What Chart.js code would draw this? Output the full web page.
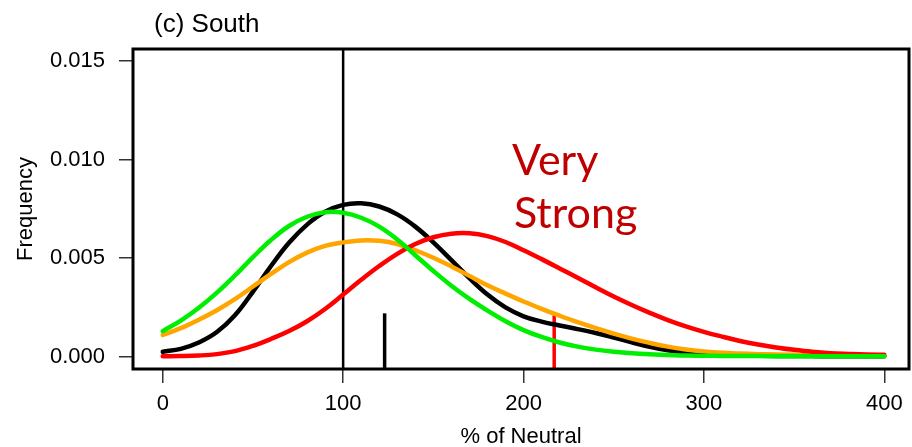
<!DOCTYPE html>
<html>
<head>
<meta charset="utf-8">
<script src="https://cdn.jsdelivr.net/npm/chart.js@4/dist/chart.umd.min.js"></script>
<style>
  html, body { margin: 0; padding: 0; background: #fff; }
  #wrap { width: 912px; height: 447px; position: relative; }
</style>
</head>
<body>
<div id="wrap"><canvas id="c" width="912" height="447"></canvas></div>
<script>
// ---- data ----
const pctNeutral = [0,10,20,30,40,50,60,70,80,90,100,110,120,130,140,150,160,170,180,190,200,
                    210,220,230,240,250,260,270,280,290,300,310,320,330,340,350,360,370,380,390,400];
const blackFreq  = [0.00025,0.00040,0.00072,0.00125,0.00210,0.00330,0.00460,0.00578,0.00670,0.00735,0.00770,
                    0.00778,0.00762,0.00722,0.00660,0.00580,0.00490,0.00398,0.00315,0.00250,0.00205,
                    0.00178,0.00158,0.00140,0.00120,0.00097,0.00073,0.00050,0.00032,0.00020,0.00013,
                    0.00009,0.00007,0.00005,0.00004,0.00003,0.00003,0.00002,0.00002,0.00002,0.00002];
const orangeFreq = [0.00110,0.00145,0.00188,0.00236,0.00292,0.00356,0.00420,0.00480,0.00528,0.00562,0.00580,
                    0.00590,0.00588,0.00572,0.00540,0.00502,0.00458,0.00410,0.00362,0.00320,0.00280,
                    0.00243,0.00208,0.00175,0.00145,0.00117,0.00092,0.00070,0.00051,0.00037,0.00027,
                    0.00020,0.00016,0.00013,0.00011,0.00010,0.00009,0.00008,0.00007,0.00006,0.00005];
const redFreq    = [0.00002,0.00003,0.00006,0.00013,0.00028,0.00055,0.00090,0.00130,0.00180,0.00242,0.00315,
                    0.00390,0.00460,0.00522,0.00572,0.00606,0.00624,0.00626,0.00612,0.00582,0.00540,
                    0.00495,0.00448,0.00400,0.00352,0.00305,0.00262,0.00222,0.00186,0.00154,0.00126,
                    0.00102,0.00080,0.00062,0.00047,0.00035,0.00025,0.00018,0.00014,0.00011,0.00010];
const greenFreq  = [0.00130,0.00183,0.00248,0.00325,0.00412,0.00505,0.00592,0.00663,0.00710,0.00733,0.00730,
                    0.00705,0.00660,0.00595,0.00515,0.00435,0.00360,0.00293,0.00234,0.00180,0.00135,
                    0.00100,0.00072,0.00051,0.00036,0.00025,0.00017,0.00012,0.00009,0.00006,0.00005,
                    0.00004,0.00003,0.00003,0.00002,0.00002,0.00002,0.00002,0.00002,0.00002,0.00002];
const neutralLine = [100];          // full-height reference line at 100 %
const blackMark   = [123, 0.0022];  // short black marker: x, top
const redMark     = [217, 0.0021];  // short red marker: x, top
const xTicks = [0, 100, 200, 300, 400];
const yTicks = [0, 0.005, 0.010, 0.015];
const xRange = [-16.5, 413.7];
const yRange = [-0.000624, 0.01561];
const titleText = "(c) South";
const noteLines = ["Very", "Strong"];

// ---- build ----
const pts = arr => pctNeutral.map((x, i) => ({ x: x, y: arr[i] }));
const curve = (data, color) => ({
  type: 'line', data: pts(data), borderColor: color, borderWidth: 4.5,
  pointRadius: 0, tension: 0.4, cubicInterpolationMode: 'default', fill: false,
  borderCapStyle: 'round', borderJoinStyle: 'round'
});
const vseg = (x, top, color, w) => ({
  type: 'line', data: [{ x: x, y: yRange[0] }, { x: x, y: top }],
  borderColor: color, borderWidth: w, pointRadius: 0, fill: false, borderCapStyle: 'butt'
});

const FONT = "'Liberation Sans', Arial, Helvetica, sans-serif";

const boxAndText = {
  id: 'boxAndText',
  afterDraw(chart) {
    const { ctx, chartArea: a } = chart;
    ctx.save();
    ctx.strokeStyle = '#000';
    ctx.lineWidth = 3;
    ctx.strokeRect(a.left, a.top, a.right - a.left, a.bottom - a.top);
    ctx.fillStyle = '#000';
    ctx.font = '26px ' + FONT;
    ctx.textAlign = 'left';
    ctx.textBaseline = 'alphabetic';
    ctx.fillText(titleText, 154, 32);
    ctx.fillStyle = '#C00000';
    ctx.font = '43px Lato, "Open Sans", sans-serif';
    ctx.fillText(noteLines[0], 512, 175);
    ctx.fillText(noteLines[1], 514, 228);
    ctx.restore();
  }
};

new Chart(document.getElementById('c'), {
  type: 'line',
  data: {
    datasets: [
      curve(greenFreq, '#00EE00'),
      curve(redFreq, '#FF0000'),
      curve(orangeFreq, '#FFA500'),
      curve(blackFreq, '#000000'),
      vseg(neutralLine[0], yRange[1], '#000000', 2.5),
      vseg(blackMark[0], blackMark[1], '#000000', 3.5),
      vseg(redMark[0], redMark[1], '#FF0000', 3.5)
    ]
  },
  options: {
    responsive: false,
    animation: false,
    layout: { padding: { top: 49, right: 3, left: 0, bottom: 0 } },
    plugins: { legend: { display: false }, tooltip: { enabled: false } },
    scales: {
      x: {
        type: 'linear', min: xRange[0], max: xRange[1],
        afterBuildTicks: s => { s.ticks = xTicks.map(v => ({ value: v })); },
        afterFit: s => { s.height = 78; },
        grid: { drawOnChartArea: false, drawTicks: true, tickLength: 14, color: '#333', lineWidth: 1.5 },
        border: { display: false },
        ticks: { color: '#000', font: { family: FONT, size: 22 }, padding: 8, maxRotation: 0,
                 callback: v => String(v) },
        title: { display: true, text: '% of Neutral', color: '#000',
                 font: { family: FONT, size: 22, lineHeight: 1.0 }, padding: { top: 0, bottom: -1 } }
      },
      y: {
        type: 'linear', min: yRange[0], max: yRange[1],
        afterBuildTicks: s => { s.ticks = yTicks.map(v => ({ value: v })); },
        afterFit: s => { s.width = 133; },
        grid: { drawOnChartArea: false, drawTicks: true, tickLength: 14, color: '#333', lineWidth: 1.5 },
        border: { display: false },
        ticks: { color: '#000', font: { family: FONT, size: 22 }, padding: 14,
                 callback: v => v.toFixed(3) },
        title: { display: true, text: 'Frequency', color: '#000',
                 font: { family: FONT, size: 22, lineHeight: 1.2 }, padding: { top: 13, bottom: 0 } }
      }
    }
  },
  plugins: [boxAndText]
});
</script>
</body>
</html>
